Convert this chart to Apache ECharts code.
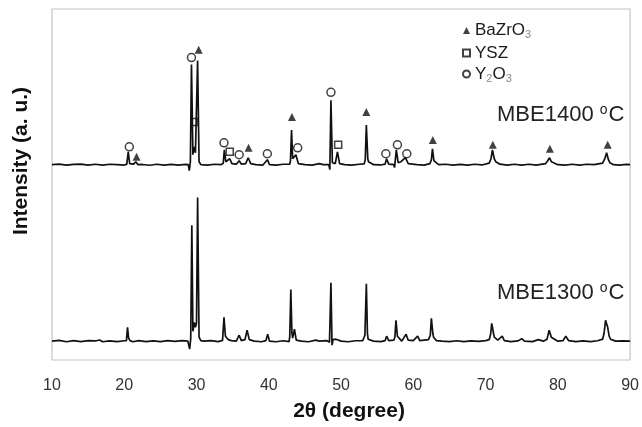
<!DOCTYPE html>
<html lang="en">
<head>
    <meta charset="UTF-8">
    <title>XRD</title>
    <style>
        body{ margin: 0; }
        #main{ width: 642px; height: 427px; }
    </style>
</head>
<body>
<div id="main"></div>
<script src="https://cdn.jsdelivr.net/npm/echarts@6/dist/echarts.min.js"></script>
<script>
    // 2theta vs intensity above baseline (a.u.)
    const pattern1300 = [
        [10,0],[11,0.8],[12,-0.6],[13,0.5],[14,-0.4],[15,0.6],[16,0.2],[16.6,1.2],[17,-0.6],[18,0.3],[19,-0.5],[20,0.4],
        [20.3,0.5],[20.45,14],[20.6,3],[20.8,0.5],[21.2,-0.6],[22,0.5],[23,-0.5],[24,0.3],[25,-0.4],[26,0.5],[27,-0.3],
        [28,0.5],[28.8,0],[29.05,-8],[29.2,3],[29.35,117],[29.5,10],[29.7,19],[29.85,14],[30.0,18],[30.15,145],[30.35,4],
        [30.6,0.5],[31,0],[32,0.6],[33,-0.4],[33.6,0.8],[33.8,24],[34.0,5],[34.4,1.5],[34.8,0.5],[35.5,0],[35.9,6],
        [36.2,0.5],[36.7,1.5],[37.0,11],[37.3,1.5],[38,0],[39,-0.6],[39.6,0.6],[39.85,7],[40.1,0],[41,-0.6],[42,0.4],
        [42.8,-0.5],[42.9,4],[43.05,52],[43.2,8],[43.3,3],[43.55,12],[43.8,1],[44.5,0],[45.5,-0.6],[46.5,1],[47,0],
        [48,0.6],[48.4,-1],[48.6,59],[48.75,-4],[48.9,1.5],[49.3,2],[50,0],[51,-0.6],[52,0.4],[53,0.6],[53.3,6],
        [53.5,58],[53.65,8],[53.75,2],[54.5,0],[55.5,-0.4],[56.1,0.6],[56.3,5],[56.6,0.5],[57.3,1],[57.45,4],[57.6,21],
        [57.8,5],[57.9,3],[58.4,0],[59.0,7],[59.3,1],[60,0.6],[60.6,5],[60.9,0.5],[61.5,1],[62.1,1.5],[62.35,6],
        [62.5,23],[62.7,8],[62.8,4],[63.2,0.5],[64,0],[65,-0.5],[66,0.4],[67,-0.4],[68,0.3],[69,-0.3],[70,0.6],
        [70.5,1.5],[70.7,7],[70.85,18],[71.1,8],[71.2,4],[71.7,1],[72.3,5],[72.6,0.5],[73.5,-0.4],[74.5,0.3],[75,2.5],
        [75.4,0],[76.5,-0.5],[77.3,1.5],[78,0],[78.5,2],[78.8,11],[79.1,4],[79.2,2],[80,0],[80.7,0.5],[81.1,5],
        [81.5,0.5],[82.5,-0.5],[83.5,0.2],[84.5,-0.4],[85.5,0.4],[86.2,2],[86.4,8],[86.6,21],[86.9,14],[87.1,5],
        [87.3,2],[88,0],[89,0.3],[90,0]
    ];
    const pattern1400 = [
        [10,0],[11,0.5],[12,-0.5],[13,0.3],[14,0.6],[15,-0.4],[16,0.4],[17,-0.5],[18,0.4],[19,0],[20,-0.4],[20.35,0.5],
        [20.55,13],[20.75,1],[21.3,0.5],[21.6,3],[21.9,0],[22.5,0.2],[23.5,-0.6],[24.5,0.4],[25.5,-0.5],[26.5,0.3],
        [27.5,-0.4],[28.5,0.3],[28.85,0],[29.0,-6],[29.15,3],[29.3,101],[29.5,10],[29.65,18],[29.85,12],[30.0,14],
        [30.15,105],[30.35,3],[30.6,0],[31.5,-0.4],[32.5,0.4],[33.4,0],[33.7,1.5],[33.85,15],[34.05,3],[34.3,2],[34.6,6],
        [34.9,1],[35.5,0.5],[35.9,4],[36.2,0.5],[36.8,1],[37.15,7],[37.5,1],[38.2,0],[39.2,-0.4],[39.8,5],[40.1,0],
        [41,-0.5],[42,0.4],[42.9,0.5],[43.0,4],[43.15,35],[43.3,6],[43.4,5],[43.75,10],[44.1,1],[45,0],[46,-0.4],[47,1],
        [47.5,0],[48.3,0],[48.45,-5],[48.6,65],[48.8,2],[49.2,1],[49.5,13],[49.8,1],[50.5,0],[51.5,-0.5],[52.5,0.4],
        [53.2,0.8],[53.35,5],[53.5,40],[53.7,6],[53.8,3],[54.5,0],[55.5,-0.3],[56.1,0.6],[56.3,6],[56.6,0.5],[57.3,0],
        [57.4,-3],[57.65,15],[57.9,2],[58.3,3],[58.9,7],[59.3,1],[60.5,0],[61.5,-0.4],[62.3,1],[62.5,5],[62.65,16],
        [62.85,4],[63.0,2],[63.5,0],[64.5,0.4],[65.5,-0.5],[66.5,0.3],[67.5,-0.4],[68.5,0.4],[69.5,-0.3],[70.5,1.5],
        [70.75,6],[70.95,15],[71.2,6],[71.4,3],[72,0.5],[73,-0.4],[74,0.4],[75,-0.5],[76,0.4],[77,-0.4],[78.3,1],
        [78.6,4],[78.85,7],[79.1,3],[79.3,1.5],[80,0],[81,-0.4],[82,0.4],[83,-0.4],[84,0.4],[85,0],[86.2,1.5],[86.5,6],
        [86.75,12],[87.0,5],[87.2,2],[87.7,0],[88.5,-0.4],[89.5,0.3],[90,0]
    ];
    // vertical offsets of the two stacked patterns
    const offset1300 = 19;
    const offset1400 = 197;

    // phase markers above the MBE1400 peaks [2theta, level]
    const bazro3Marks = [[21.7,205],[30.3,313],[37.2,214],[43.2,245],[53.5,250],[62.7,222],[71.0,217],[78.9,213],[86.9,217]];
    const yszMarks = [[29.7,240],[34.6,210],[49.6,217]];
    const y2o3Marks = [[20.7,215],[29.3,305],[33.8,219],[35.9,207],[39.8,208],[44.0,214],[48.6,270],[56.2,208],[57.8,217],[59.1,208]];

    const xTicks = [10, 20, 30, 40, 50, 60, 70, 80, 90];

    const shift = (arr, d) => arr.map(p => [p[0], p[1] + d]);
    const subName = n => n.replace(/(\d)/g, '{sub|$1}');

    const myChart = echarts.init(document.getElementById('main'));
    myChart.setOption({
        animation: false,
        textStyle: { fontFamily: 'Liberation Sans, Arial, sans-serif' },
        grid: { left: 52, right: 10, top: 9, bottom: 64, show: true, borderColor: '#c4c4c4', borderWidth: 1.2 },
        legend: {
            orient: 'vertical',
            left: 457, top: 17,
            itemWidth: 7, itemHeight: 7, itemGap: 4,
            data: ['BaZrO3', 'YSZ', 'Y2O3'],
            formatter: subName,
            textStyle: {
                fontSize: 17, color: '#1a1a1a',
                rich: { sub: { fontSize: 11, color: '#888', padding: [9, 0, 0, 0] } }
            }
        },
        xAxis: {
            type: 'value', min: xTicks[0], max: xTicks[xTicks.length - 1], interval: 10,
            name: '2θ (degree)', nameLocation: 'middle', nameGap: 41,
            nameTextStyle: { fontSize: 21, fontWeight: 'bold', color: '#111', padding: [0, 0, 0, 16] },
            axisLine: { show: false }, axisTick: { show: false }, splitLine: { show: false },
            axisLabel: { fontSize: 16, color: '#333', margin: 18 }
        },
        yAxis: {
            type: 'value', min: 0, max: 354,
            axisLine: { show: false }, axisTick: { show: false }, splitLine: { show: false },
            axisLabel: { show: false }
        },
        graphic: [
            {
                type: 'text', x: 21, y: 161, rotation: Math.PI / 2,
                style: { text: 'Intensity (a. u.)', fontSize: 21, fontWeight: 'bold', fill: '#111',
                    fontFamily: 'Liberation Sans, Arial, sans-serif', align: 'center', verticalAlign: 'middle' }
            },
            {
                type: 'text', left: 497, top: 103,
                style: { text: 'MBE1400 {sup|o}C', fontSize: 22, fill: '#222',
                    fontFamily: 'Liberation Sans, Arial, sans-serif',
                    rich: { sup: { fontSize: 14, padding: [0, 1, 9, 0] } } }
            },
            {
                type: 'text', left: 497, top: 281,
                style: { text: 'MBE1300 {sup|o}C', fontSize: 22, fill: '#222',
                    fontFamily: 'Liberation Sans, Arial, sans-serif',
                    rich: { sup: { fontSize: 14, padding: [0, 1, 9, 0] } } }
            }
        ],
        series: [
            {
                type: 'line', data: shift(pattern1300, offset1300), showSymbol: false,
                lineStyle: { color: '#111', width: 1.7 }, silent: true
            },
            {
                type: 'line', data: shift(pattern1400, offset1400), showSymbol: false,
                lineStyle: { color: '#111', width: 1.7 }, silent: true
            },
            {
                name: 'BaZrO3', type: 'scatter', data: bazro3Marks, symbol: 'triangle', symbolSize: 8,
                itemStyle: { color: '#111' }
            },
            {
                name: 'YSZ', type: 'scatter', data: yszMarks, symbol: 'rect', symbolSize: 7,
                itemStyle: { color: '#fff', borderColor: '#111', borderWidth: 1.5 }
            },
            {
                name: 'Y2O3', type: 'scatter', data: y2o3Marks, symbol: 'circle', symbolSize: 8,
                itemStyle: { color: '#fff', borderColor: '#111', borderWidth: 1.5 }
            }
        ]
    });
</script>
</body>
</html>
